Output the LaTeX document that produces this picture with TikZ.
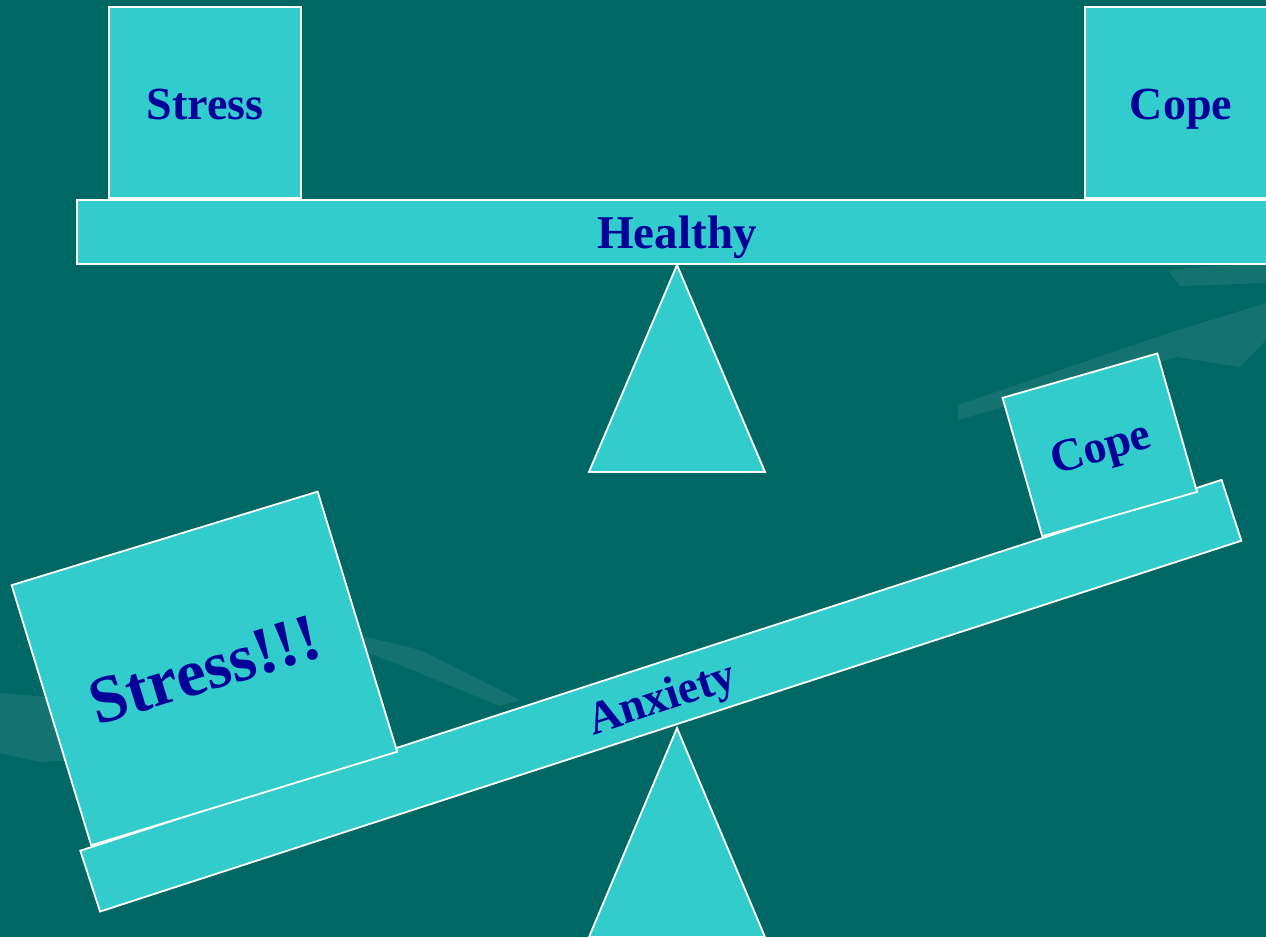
\documentclass[tikz,border=0pt]{standalone}
\usepackage{fontspec}
\setmainfont{Liberation Serif}
\usepackage{tikz}
\usetikzlibrary{positioning,calc}
\definecolor{slidebg}{RGB}{0,104,100}
\definecolor{boxfill}{RGB}{51,204,204}
\definecolor{labelblue}{RGB}{0,0,153}
\tikzstyle{line} = [draw=white,line width=1.8pt,fill=boxfill]
\tikzstyle{haze} = [fill=white,opacity=0.08]

\begin{document}
\begin{tikzpicture}[x=1pt,y=-1pt,
                plank/.style = {rectangle, fill=boxfill, draw=white, line width=1.8pt,
                  minimum width=1200pt, minimum height=64pt, inner sep=0pt,
                  text=labelblue, text height=33pt, text depth=0pt,
                  font=\bfseries\fontsize{46}{46}\selectfont},
                weight/.style = {plank, minimum width=192pt, minimum height=191pt}]
                \fill[slidebg] (0,0) rectangle (1266,937);
                \useasboundingbox (0,0) rectangle (1266,937);
                % faint background
                \path[haze] (1168,270) -- (1266,262) -- (1266,283) -- (1180,286) -- cycle;
                \path[haze] (958,405) -- (1163,335) -- (1266,303) -- (1266,340) -- (1240,367) -- (1177,357) -- (958,420) -- cycle;
                \path[haze] (0,693) -- (60,698) -- (80,760) -- (40,762) -- (0,753) -- cycle;
                \path[haze] (345,632) -- (420,650) -- (520,700) -- (500,706) -- (400,665) -- (360,650) -- cycle;
                % balanced scale
                \node[plank, font=\bfseries\fontsize{47}{47}\selectfont] (healthy) at (677,232) {Healthy};
                \node[weight, anchor=south west] (stress1) at ([xshift=32pt]healthy.north west) {Stress};
                \node[weight, anchor=south east] (cope1) at (healthy.north east) {Cope};
                \path[line] (healthy.south) -- ++(-88,207) -- ++(176,0) -- cycle;
                % tipped scale
                \coordinate (tip) at (677,728);
                \path[line] (tip) -- ++(-88,209) -- ++(176,0) -- cycle;
                \node[plank, rotate=18, anchor=south] (anxiety) at ([xshift=-6pt,yshift=1pt]tip) {Anxiety};
                \node[weight, rotate=17, anchor=south west, minimum width=320pt, minimum height=272pt,
                  text height=46pt, font=\bfseries\fontsize{67}{67}\selectfont] (stress2)
                  at ($(anxiety.north west)!12pt!(anxiety.north east)$) {Stress!!!};
                \node[weight, rotate=16, anchor=south west, minimum width=161pt, minimum height=144pt] (cope2)
                  at ($(anxiety.north west)!1012pt!(anxiety.north east)$) {Cope};
            \end{tikzpicture}
\end{document}
